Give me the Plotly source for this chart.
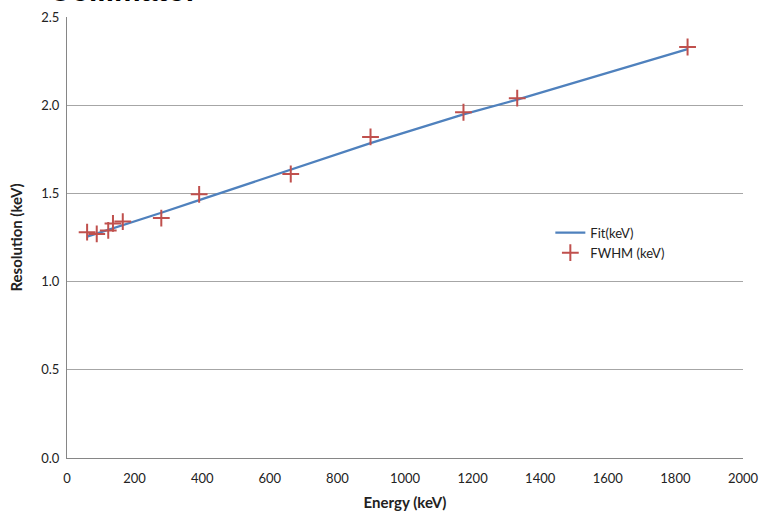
import plotly.graph_objects as go

energy_keV = [59.5, 88, 122, 136, 165, 279, 391, 662, 898, 1173, 1332, 1836]
fwhm_keV = [1.28, 1.27, 1.29, 1.33, 1.34, 1.36, 1.495, 1.61, 1.82, 1.96, 2.04, 2.33]
fit_keV = [1.255, 1.272, 1.292, 1.301, 1.318, 1.39, 1.462, 1.633, 1.785, 1.948, 2.032, 2.318]

x_ticks = [0, 200, 400, 600, 800, 1000, 1200, 1400, 1600, 1800, 2000]
y_ticks = [0.0, 0.5, 1.0, 1.5, 2.0, 2.5]

font_family = "Lato, 'Open Sans', sans-serif"

fig = go.Figure()
fig.add_trace(go.Scatter(
    x=energy_keV, y=fit_keV, mode="lines", name="Fit(keV)",
    line=dict(color="#4F81BD", width=2.25),
))
fig.add_trace(go.Scatter(
    x=energy_keV, y=fwhm_keV, mode="markers", name="FWHM (keV)",
    marker=dict(symbol="cross-thin-open", size=12,
                line=dict(color="#C0504D", width=2), color="#C0504D"),
))

fig.update_layout(
    width=761, height=512,
    margin=dict(l=67, r=18, t=17, b=54, autoexpand=False),
    paper_bgcolor="white", plot_bgcolor="white",
    font=dict(family=font_family, size=13, color="#222222"),
    showlegend=True,
    legend=dict(x=0.715, y=0.488, xanchor="left", yanchor="middle",
                bgcolor="rgba(0,0,0,0)", font=dict(size=13, color="#222222"),
                tracegroupgap=0, itemwidth=30),
    xaxis=dict(
        range=[0, 2000], tickvals=x_ticks, ticktext=[str(v) for v in x_ticks],
        showgrid=False, zeroline=False, showline=True, linecolor="#868686", linewidth=1,
        ticks="", tickfont=dict(size=13), automargin=False, ticklabelstandoff=8,
        title=dict(text="<b>Energy (keV)</b>", font=dict(size=15), standoff=12),
    ),
    yaxis=dict(
        range=[0, 2.5], tickvals=y_ticks, ticktext=[f"{v:.1f}" for v in y_ticks],
        showgrid=True, gridcolor="#A6A6A6", gridwidth=1, zeroline=False,
        showline=True, linecolor="#868686", linewidth=1, ticks="",
        tickfont=dict(size=13), automargin=False, ticklabelstandoff=4,
        title=dict(text="<b>Resolution (keV)</b>", font=dict(size=15), standoff=14),
    ),
    annotations=[dict(
        text="<b>Collimator</b>", xref="paper", yref="paper",
        x=-0.03, y=1.0, xanchor="left", yanchor="bottom", yshift=8,
        showarrow=False, font=dict(size=30, color="black", family="Liberation Sans"),
    )],
)

fig.write_html("out.html")
